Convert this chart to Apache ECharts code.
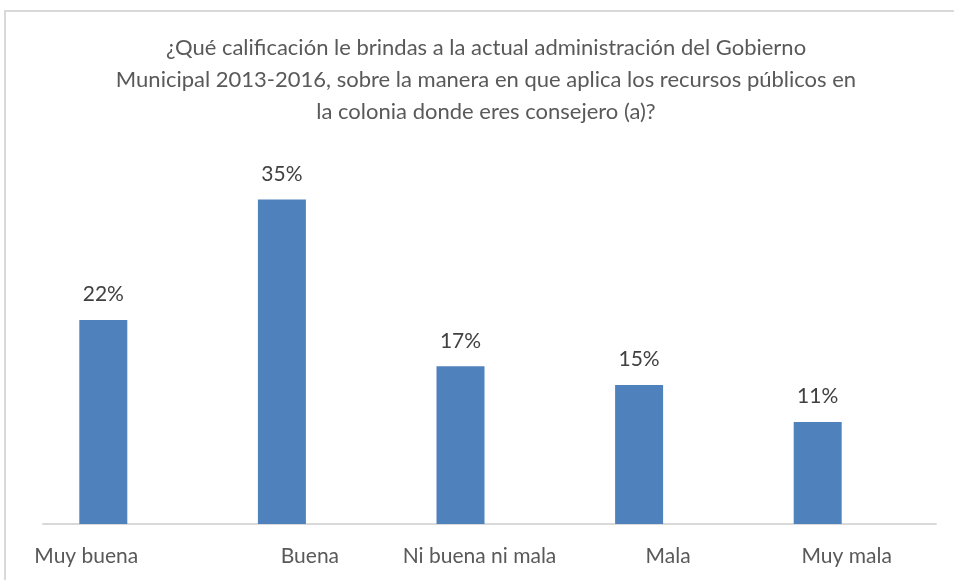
<!DOCTYPE html>
<html>
<head>
<meta charset="utf-8">
<script src="https://cdn.jsdelivr.net/npm/echarts@6/dist/echarts.min.js"></script>
<style>
  html, body { margin: 0; padding: 0; background: #ffffff; }
  #chart { width: 954px; height: 580px; }
</style>
</head>
<body>
<div id="chart"></div>
<script>
// Survey answers and their share of respondents (%)
const categories = ['Muy buena', 'Buena', 'Ni buena ni mala', 'Mala', 'Muy mala'];
const values = [22, 35, 17, 15, 11];
const titleText = '¿Qué calificación le brindas a la actual administración del Gobierno\n' +
  'Municipal 2013-2016, sobre la manera en que aplica los recursos públicos en\n' +
  'la colonia donde eres consejero (a)?';

// Horizontal nudges for the category labels (px, + = right)
const labelShift = [-17, 28, 19, 29, 29];

const FONT = 'Lato, "Open Sans", sans-serif';

const rich = {};
labelShift.forEach((s, i) => {
  rich['c' + i] = {
    fontFamily: FONT,
    fontSize: 21,
    color: '#595959',
    padding: s >= 0 ? [0, 0, 0, 2 * s] : [0, -2 * s, 0, 0]
  };
});

const chart = echarts.init(document.getElementById('chart'), null, { renderer: 'canvas' });

chart.setOption({
  backgroundColor: '#ffffff',
  animation: false,
  title: {
    text: titleText,
    left: 481,
    top: 27,
    textAlign: 'center',
    textStyle: {
      fontFamily: FONT,
      fontSize: 22,
      fontWeight: 'normal',
      color: '#595959',
      lineHeight: 32
    }
  },
  graphic: [{
    type: 'rect',
    shape: { x: 5, y: 11, width: 1000, height: 600 },
    style: { fill: 'none', stroke: '#d9d9d9', lineWidth: 2 },
    silent: true,
    z: -10
  }],
  grid: [
    { left: 14, right: 47, top: 153, bottom: 56 },
    { left: 43, right: 18, top: 153, bottom: 56 }
  ],
  xAxis: [
    {
      type: 'category',
      gridIndex: 0,
      data: categories,
      axisLine: { show: false },
      axisTick: { show: false },
      axisLabel: {
        margin: 22,
        formatter: (v, i) => '{c' + i + '|' + v + '}',
        rich: rich
      }
    },
    {
      type: 'value',
      gridIndex: 1,
      min: 0,
      max: 1,
      axisLine: { show: true, lineStyle: { color: '#d9d9d9', width: 2 } },
      axisTick: { show: false },
      axisLabel: { show: false },
      splitLine: { show: false }
    }
  ],
  yAxis: [
    {
      type: 'value',
      gridIndex: 0,
      min: 0,
      max: 40,
      show: false,
      splitLine: { show: false }
    },
    {
      type: 'value',
      gridIndex: 1,
      show: false,
      splitLine: { show: false }
    }
  ],
  series: [{
    type: 'bar',
    xAxisIndex: 0,
    yAxisIndex: 0,
    data: values,
    barWidth: 48,
    itemStyle: { color: '#4f81bd' },
    label: {
      show: true,
      position: 'top',
      distance: 15,
      formatter: p => p.value + '%',
      fontFamily: FONT,
      fontSize: 21,
      color: '#404040'
    }
  }]
});
</script>
</body>
</html>
